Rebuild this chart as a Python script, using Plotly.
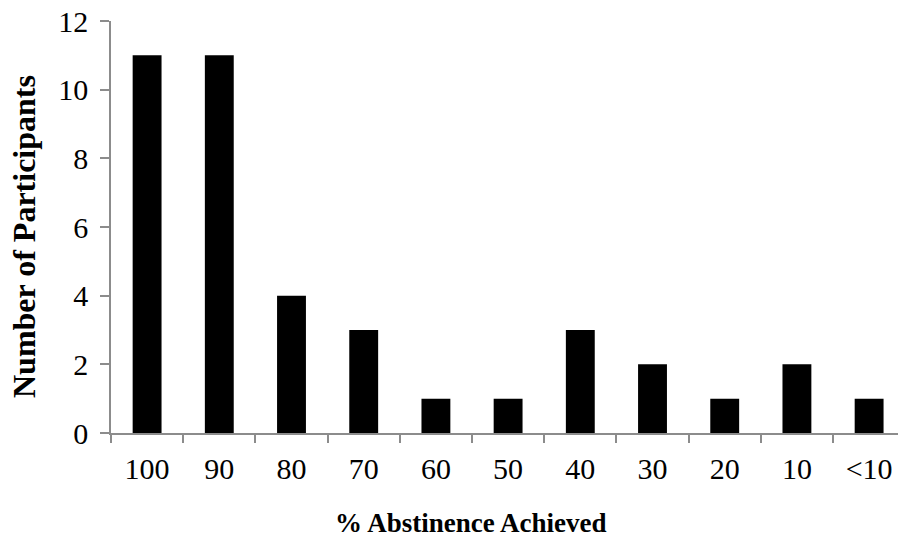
import plotly.graph_objects as go

categories = ["100", "90", "80", "70", "60", "50", "40", "30", "20", "10", "<10"]
participants = [11, 11, 4, 3, 1, 1, 3, 2, 1, 2, 1]
y_ticks = [0, 2, 4, 6, 8, 10, 12]

FONT = "Liberation Serif, Times New Roman, serif"
AX = "#8c8c8c"

fig = go.Figure(go.Bar(
    x=categories, y=participants,
    marker=dict(color="black", line=dict(width=0)),
    width=0.4,
))

W, H = 898, 540
L, R, T, B = 111, 0, 21, 107

fig.update_layout(
    width=W, height=H,
    margin=dict(l=L, r=R, t=T, b=B),
    paper_bgcolor="white", plot_bgcolor="white",
    font=dict(family=FONT, size=29, color="black"),
    showlegend=False,
    xaxis=dict(
        type="category",
        range=[-0.5, 10.4],
        showline=True, linecolor=AX, linewidth=1.5,
        ticks="outside", tickson="boundaries", ticklen=8, tickcolor=AX, tickwidth=1.5,
        showgrid=False, zeroline=False,
        tickfont=dict(family=FONT, size=30),
        ticklabelstandoff=8,
    ),
    yaxis=dict(
        range=[0, 12],
        tickvals=y_ticks,
        showline=True, linecolor=AX, linewidth=1.5,
        ticks="outside", ticklen=9, tickcolor=AX, tickwidth=1.5,
        showgrid=False, zeroline=False,
        tickfont=dict(family=FONT, size=30),
        ticklabelstandoff=6,
    ),
    annotations=[
        dict(text="<b>% Abstinence Achieved</b>", xref="paper", yref="paper",
             x=(471 - L) / (W - L - R), y=-(523 - (H - B)) / (H - T - B),
             xanchor="center", yanchor="middle", showarrow=False,
             font=dict(family=FONT, size=27)),
        dict(text="<b>Number of Participants</b>", xref="paper", yref="paper",
             x=-(L - 24) / (W - L - R), y=((H - B) - 237) / (H - T - B),
             xanchor="center", yanchor="middle", textangle=-90, showarrow=False,
             font=dict(family=FONT, size=32)),
    ],
)

fig.write_html("out.html", config={"displayModeBar": False},
               post_script="document.body.style.margin='0';document.body.style.overflow='hidden';")
